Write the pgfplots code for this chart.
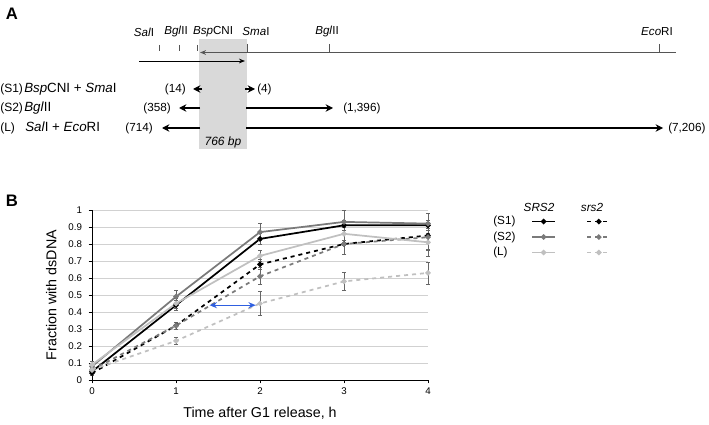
\documentclass[border=0pt]{standalone}
\usepackage{pgfplots}
\pgfplotsset{compat=1.18}
\usepackage{fontspec}
\setmainfont{Liberation Sans}
\usetikzlibrary{arrows.meta}
\definecolor{cS1}{HTML}{000000}
\definecolor{cS2}{HTML}{7A7A7A}
\definecolor{cL}{HTML}{C0C0C0}
\definecolor{maplinecol}{HTML}{555555}
\definecolor{boxgray}{HTML}{D9D9D9}
\definecolor{bluearrow}{HTML}{2F5FE0}
\begin{document}
\begin{tikzpicture}
\begin{scope}[x=0.75pt,y=-0.75pt]
\path[use as bounding box] (0,0) rectangle (709,424);
% panel letters
\node[font=\fontsize{12.5}{14}\selectfont\bfseries] at (12,14) {A};
\node[font=\fontsize{12.5}{14}\selectfont\bfseries] at (12,201) {B};
% shaded box
\fill[boxgray] (199,39) rectangle (247,149);
\node[font=\fontsize{9}{10}\selectfont\itshape] at (223,142) {766 bp};
% enzyme labels
\begin{scope}[every node/.style={font=\fontsize{8.7}{10}\selectfont,inner sep=0pt}]
\node at (144,32) {\textit{Sal}I};
\node at (176,32) {\textit{Bgl}II};
\node at (213,32) {\textit{Bsp}CNI};
\node at (256,32) {\textit{Sma}I};
\node at (327,32) {\textit{Bgl}II};
\node at (657,32) {\textit{Eco}RI};
\end{scope}
% ticks
\draw[maplinecol,line width=0.6pt] (159,45)--(159,51) (179,45)--(179,51) (197,45)--(197,51);
\draw[maplinecol,line width=0.6pt] (247,44)--(247,53) (329,44)--(329,53) (659,44)--(659,53);
\draw[maplinecol,line width=0.7pt,{Stealth[length=4.5pt,width=3.5pt]}-] (200,52.5)--(676,52.5);
\draw[black,line width=0.7pt,-{Stealth[length=4.5pt,width=3.5pt]}] (139,61)--(245,61);
% row labels
\begin{scope}[every node/.style={inner sep=0pt,anchor=west}]
\node[font=\fontsize{9}{10}\selectfont] at (0,89.5) {(S1)};
\node[font=\fontsize{10}{11}\selectfont] at (24,89) {\textit{Bsp}CNI + \textit{Sma}I};
\node[font=\fontsize{9}{10}\selectfont] at (0,108.5) {(S2)};
\node[font=\fontsize{10}{11}\selectfont] at (24,108) {\textit{Bgl}II};
\node[font=\fontsize{9}{10}\selectfont] at (0,128.5) {(L)};
\node[font=\fontsize{10}{11}\selectfont] at (25,127) {\textit{Sal}I + \textit{Eco}RI};
\end{scope}
% fragment arrows
\begin{scope}[line width=1.4pt,arrows={-{Stealth[length=5.5pt,width=5.5pt]}}]
\draw (202,89)--(193,89);
\draw (245,89)--(255,89);
\draw (200,108)--(179,108);
\draw (246,108)--(333,108);
\draw (200,128)--(162,128);
\draw (246,128)--(663,128);
\end{scope}
\begin{scope}[every node/.style={font=\fontsize{8.8}{10}\selectfont,inner sep=0pt}]
\node[anchor=east] at (186,89) {(14)};
\node[anchor=west] at (257,89) {(4)};
\node[anchor=east] at (171,108) {(358)};
\node[anchor=west] at (343,108) {(1,396)};
\node[anchor=east] at (153,128) {(714)};
\node[anchor=west] at (668,128) {(7,206)};
\end{scope}
% legend headers and row labels
\begin{scope}[every node/.style={font=\fontsize{8.8}{10}\selectfont,inner sep=0pt}]
\node at (539,207) {\textit{SRS2}};
\node at (592,207) {\textit{srs2}};
\node[anchor=west] at (493,221.5) {(S1)};
\node[anchor=west] at (493,237) {(S2)};
\node[anchor=west] at (493,252.5) {(L)};
\end{scope}
\end{scope}
\begin{axis}[
  at={(69pt,-285pt)}, anchor=south west,
  scale only axis, width=252pt, height=127.5pt,
  xmin=0, xmax=4, ymin=0, ymax=1,
  xtick={0,1,2,3,4}, ytick={0,0.1,...,1},
  axis x line*=bottom, axis y line*=left,
  axis line style={black,line width=0.6pt},
  tick align=outside, major tick length=2.5pt,
  tick style={black,line width=0.5pt},
  ymajorgrids, grid style={black!18,line width=0.5pt},
  /pgf/number format/assume math mode=true,
  ticklabel style={font=\fontsize{7.3}{8}\selectfont},
  yticklabel style={xshift=-1.5pt},
  xlabel={Time after G1 release, h}, ylabel={Fraction with dsDNA},
  label style={font=\fontsize{10.7}{12}\selectfont},
  xlabel style={yshift=-2pt},
  ylabel style={yshift=2pt},
  clip=false,
  every axis plot/.append style={line width=1.3pt, mark=*, mark size=1.3pt,
     error bars/y dir=both, error bars/y explicit,
     error bars/error bar style={black!60,line width=0.5pt,solid},
     error bars/error mark options={black!60,line width=0.5pt,rotate=90,mark size=1.5pt}},
  legend columns=2,
  legend style={draw=none, fill=none, at={(1.295,0.841)}, anchor=west,
     nodes={inner sep=0pt, minimum height=11.6pt, minimum width=0pt},
     /tikz/every even column/.append style={column sep=23pt},
     row sep=0pt},
]
\addplot[cS1, solid, mark options={solid}] table[y error=e] {
x y e
0 0.05 0.01
1 0.44 0.03
2 0.83 0.03
3 0.91 0.03
4 0.91 0.03
};
\addlegendentry{}
\addplot[cS1, dashed, mark options={solid}] table[y error=e] {
x y e
0 0.04 0.01
1 0.32 0.02
2 0.68 0.03
3 0.80 0.06
4 0.85 0.08
};
\addlegendentry{}
\addplot[cS2, solid, mark options={solid}] table[y error=e] {
x y e
0 0.08 0.02
1 0.49 0.04
2 0.87 0.05
3 0.93 0.07
4 0.92 0.06
};
\addlegendentry{}
\addplot[cS2, dashed, mark options={solid}] table[y error=e] {
x y e
0 0.06 0.02
1 0.32 0.02
2 0.61 0.05
3 0.80 0.06
4 0.84 0.08
};
\addlegendentry{}
\addplot[cL, solid, mark options={solid}] table[y error=e] {
x y e
0 0.09 0.02
1 0.45 0.03
2 0.73 0.03
3 0.86 0.04
4 0.81 0.08
};
\addlegendentry{}
\addplot[cL, dashed, mark options={solid}] table[y error=e] {
x y e
0 0.06 0.02
1 0.23 0.02
2 0.45 0.07
3 0.58 0.055
4 0.63 0.065
};
\addlegendentry{}
\draw[bluearrow,line width=0.9pt,{Stealth[length=5.5pt,width=4.5pt]}-{Stealth[length=5.5pt,width=4.5pt]}] (axis cs:1.4,0.44) -- (axis cs:1.95,0.44);
\end{axis}
\end{tikzpicture}
\end{document}
